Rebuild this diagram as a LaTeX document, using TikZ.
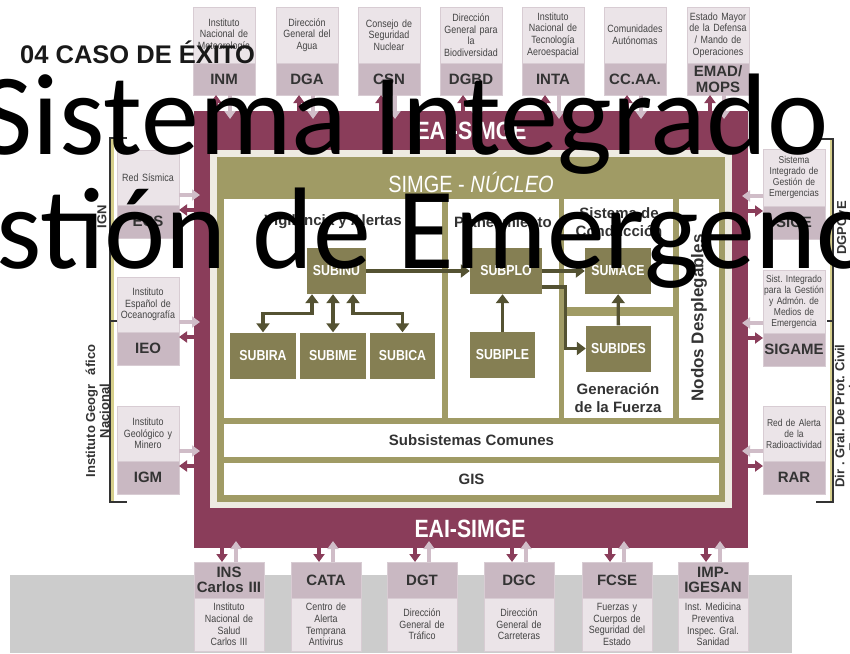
\documentclass[tikz,border=0pt]{standalone}
\usepackage{fontspec}
\setmainfont{Liberation Sans}
\newfontfamily\condfont[FakeStretch=0.85]{Liberation Sans}
\newfontfamily\titlefont{Carlito}
\usetikzlibrary{arrows.meta,calc,fit,positioning}
\frenchspacing

\definecolor{eaired}{HTML}{8A3D5A}
\definecolor{creamcol}{HTML}{EEEBE2}
\definecolor{olivecol}{HTML}{A09B65}
\definecolor{subcol}{HTML}{857F53}
\definecolor{arrowolive}{HTML}{545232}
\definecolor{pinklight}{HTML}{EBE4E8}
\definecolor{pinkedge}{HTML}{D8CCD3}
\definecolor{pinklabel}{HTML}{C9B8C2}
\definecolor{pinkarrow}{HTML}{D0BDC8}
\definecolor{txtdark}{HTML}{333333}
\definecolor{txtgray}{HTML}{444444}
\definecolor{bandgray}{HTML}{CCCCCC}
\definecolor{bracketyel}{HTML}{D6CF8C}

\tikzset{>=Triangle,
  area/.style={rectangle,inner sep=0pt,outer sep=0pt},
  panel/.style={area,fill=white},
  infobox/.style={rectangle,fill=pinklight,draw=pinkedge,line width=0.8pt,
    minimum width=62pt,text width=61pt,inner sep=0pt,outer sep=0pt,align=center,
    font=\condfont\fontsize{10.5}{11.6}\selectfont,text=txtgray},
  labelbox/.style={rectangle,fill=pinklabel,draw=pinkedge,line width=0.8pt,
    minimum width=62pt,text width=60pt,inner sep=0pt,outer sep=0pt,align=center,
    font=\bfseries\fontsize{15}{15.5}\selectfont,text=txtdark},
  subbox/.style={rectangle,fill=subcol,minimum width=66pt,minimum height=46pt,
    inner sep=0pt,font=\condfont\bfseries\fontsize{14.5}{14.5}\selectfont,text=white},
  heading/.style={inner sep=0pt,align=center,text=txtdark,
    font=\bfseries\fontsize{15}{18}\selectfont},
  frametitle/.style={inner sep=0pt,text=white,
    font=\condfont\bfseries\fontsize{25}{25}\selectfont},
  sidetitle/.style={inner sep=0pt,align=center,rotate=90,text=txtdark,
    font=\bfseries\fontsize{13}{14}\selectfont},
  oarr/.style={draw=arrowolive,line width=3.3pt,-{Triangle[width=13pt,length=9pt]}},
  oarr2/.style={draw=arrowolive,line width=3.3pt,
    {Triangle[width=13pt,length=9pt]}-{Triangle[width=13pt,length=9pt]}},
  lightarr/.style={draw=pinkarrow,line width=4.5pt,-{Triangle[width=11pt,length=8pt]}},
  darkarr/.style={draw=eaired,line width=4.5pt,-{Triangle[width=11pt,length=8pt]}},
  bracketline/.style={draw=txtdark,line width=1.2pt}
}

\begin{document}
\begin{tikzpicture}[x=1pt,y=-1pt]
\useasboundingbox (0,0) rectangle (850,653);

% banda gris inferior
\fill[bandgray] (10,575) rectangle (792,653);

% marco EAI-SIMGE y nucleo
\node[area,fill=eaired,fit={(194,111) (748,548)}] (eai) {};
\node[area,fill=creamcol,fit={(210,150) (732,508)}] (core) {};
\node[area,fill=olivecol,fit={(217,157) (725,502)}] (nucleo) {};
\node[frametitle] (eai-top) at (471,131) {EAI-SIMGE};
\node[frametitle] (eai-bot) at (470,529) {EAI-SIMGE};
\node[inner sep=0pt,text=white,font=\condfont\fontsize{23.5}{23.5}\selectfont]
  (simge) at (471,182) {SIMGE - \textit{NÚCLEO}};

% paneles
\node[panel,fit={(224,199) (442,418)}] (vig) {};
\node[panel,fit={(448,199) (559,418)}] (plan) {};
\node[panel,fit={(564,199) (673,307)}] (cond) {};
\node[panel,fit={(564,316) (673,418)}] (gen) {};
\node[panel,fit={(679,199) (719,418)}] (nodos) {};
\node[panel,fit={(224,424) (719,457)}] (comunes) {};
\node[panel,fit={(224,463) (719,495)}] (gis) {};

\node[heading] (vig-t) at (333,222) {Vigilancia y Alertas};
\node[heading] (plan-t) at (503,222) {Planeamiento};
\node[heading] (cond-t) at (619,222.5) {Sistema de\\Conducción};
\node[heading] (gen-t) at (618,398.5) {Generación\\de la Fuerza};
\node[heading,rotate=90,font=\bfseries\fontsize{17}{17}\selectfont] (nodos-t) at (699,318) {Nodos Desplegables};
\node[heading] (comunes-t) at (comunes) {Subsistemas Comunes};
\node[heading] (gis-t) at (gis) {GIS};

% subsistemas
\node[subbox,minimum width=59pt] (subinu) at (336.5,271) {SUBINU};
\node[subbox] (subira) at (263,355.5) {SUBIRA};
\node[subbox] (subime) at (333,355.5) {SUBIME};
\node[subbox,minimum width=65pt] (subica) at (402.5,355.5) {SUBICA};
\node[subbox,minimum width=72pt] (subplo) at (506,271) {SUBPLO};
\node[subbox,minimum width=65pt] (subiple) at (502.5,355) {SUBIPLE};
\node[subbox] (sumace) at (618,271) {SUMACE};
\node[subbox,minimum width=65pt] (subides) at (618.5,348.5) {SUBIDES};

\draw[oarr] (subinu) -- (subplo);
\draw[oarr] (subplo) -- (sumace);
\draw[oarr] ([yshift=-16pt]subplo.east) -- ++(23,0) |- (subides.west);
\draw[oarr] (subides) -- (sumace);
\draw[oarr] (subiple.north) -- (subiple.north |- subplo.south);
\draw[oarr2] (subime.north) -- (subime.north |- subinu.south);
\draw[oarr2] (subira.north) -- ++(0,-19) -| ($(subime.north |- subinu.south)+(-21,0)$);
\draw[oarr2] (subica.north) -- ++(0,-19) -| ($(subime.north |- subinu.south)+(20,0)$);

% organismos superiores
\foreach \x/\nm/\info/\lbl in {
  193/inm/{Instituto\\Nacional de\\Meteorología}/INM,
  276/dga/{Dirección\\General del\\Agua}/DGA,
  358/csn/{Consejo de\\Seguridad\\Nuclear}/CSN,
  440/dgbd/{Dirección\\General para\\la\\Biodiversidad}/DGBD,
  522/inta/{Instituto\\Nacional de\\Tecnología\\Aeroespacial}/INTA,
  604/ccaa/{Comunidades\\Autónomas}/CC.AA.,
  687/emad/{Estado Mayor\\de la Defensa\\/ Mando de\\Operaciones}/{EMAD/\\MOPS}}
{
  \node[infobox,minimum height=56pt,anchor=north west] (\nm-info) at (\x,7) {\info};
  \node[labelbox,minimum height=32pt,anchor=north] (\nm) at (\nm-info.south) {\lbl};
  \coordinate (\nm-a) at ($(\nm.south)+(-8,0)$);
  \coordinate (\nm-b) at ($(\nm.south)+(6,0)$);
  \draw[darkarr] (\nm-a |- eai.north) -- (\nm-a);
  \draw[lightarr] (\nm-b) -- ++(0,24);
}

% organismos inferiores
\foreach \x/\nm/\lbl/\info in {
  194/ins/{INS\\Carlos III}/{Instituto\\Nacional de\\Salud\\Carlos III},
  291/cata/CATA/{Centro de\\Alerta\\Temprana\\Antivirus},
  387/dgt/DGT/{Dirección\\General de\\Tráfico},
  484/dgc/DGC/{Dirección\\General de\\Carreteras},
  582/fcse/FCSE/{Fuerzas y\\Cuerpos de\\Seguridad del\\Estado},
  678/imp/{IMP-\\IGESAN}/{Inst. Medicina\\Preventiva\\Inspec. Gral.\\Sanidad}}
{
  \node[labelbox,minimum width=70pt,text width=68pt,minimum height=36pt,anchor=north west] (\nm) at (\x,562) {\lbl};
  \node[infobox,minimum width=70pt,text width=68pt,minimum height=53pt,anchor=north] (\nm-info) at (\nm.south) {\info};
  \coordinate (\nm-a) at ($(\nm.north)+(-7,0)$);
  \coordinate (\nm-b) at ($(\nm.north)+(7,0)$);
  \draw[darkarr] (\nm-a |- eai.south) -- (\nm-a);
  \draw[lightarr] (\nm-b) -- ++(0,-21);
}

% organismos izquierda (IGN)
\foreach \y/\nm/\info/\lbl in {
  150/ecs/{Red Sísmica}/ECS,
  277/ieo/{Instituto\\Español de\\Oceanografía}/IEO,
  406/igm/{Instituto\\Geológico y\\Minero}/IGM}
{
  \node[infobox,minimum height=55pt,anchor=north west] (\nm-info) at (117,\y) {\info};
  \node[labelbox,minimum height=33pt,anchor=north] (\nm) at (\nm-info.south) {\lbl};
  \coordinate (\nm-l) at ($(\nm.north east)+(0,-10)$);
  \coordinate (\nm-d) at ($(\nm.north east)+(0,5)$);
  \draw[lightarr] (\nm-l) -- ++(21,0);
  \draw[darkarr] (\nm-d -| eai.west) -- (\nm-d);
}

% organismos derecha (DGPCyE)
\foreach \y/\h/\nm/\info/\lbl in {
  149/57/sige/{Sistema\\Integrado de\\Gestión de\\Emergencias}/SIGE,
  270/63/sigame/{Sist. Integrado\\para la Gestión\\y Admón. de\\Medios de\\Emergencia}/SIGAME,
  406/55/rar/{Red de Alerta\\de la\\Radioactividad}/RAR}
{
  \node[infobox,minimum height=\h pt,anchor=north west,text width=62pt,
    font=\condfont\fontsize{10}{11}\selectfont] (\nm-info) at (763,\y) {\info};
  \node[labelbox,minimum height=33pt,anchor=north] (\nm) at (\nm-info.south) {\lbl};
  \coordinate (\nm-l) at ($(\nm.north west)+(0,-10)$);
  \coordinate (\nm-d) at ($(\nm.north west)+(0,5)$);
  \draw[lightarr] (\nm-l) -- ++(-21,0);
  \draw[darkarr] (\nm-d -| eai.east) -- (\nm-d);
}

% llaves laterales
\fill[bracketyel] (110,138) rectangle (113.5,502);
\draw[bracketline] (127,138) -- (110,138) -- (110,502) -- (127,502);
\draw[bracketline] (110,321) -- (117,321);
\fill[bracketyel] (829.5,139) rectangle (833,502);
\draw[bracketline] (816,139) -- (833,139) -- (833,502) -- (816,502);
\draw[bracketline] (827,321) -- (833,321);

\node[sidetitle] (ign) at (102,217) {IGN};
\node[sidetitle] (ign-full) at (97.5,411) {Instituto Geogr\hspace{9pt}áfico\\Nacional};
\node[sidetitle] (dgpcye) at (843,228) {DGPCyE};
\node[sidetitle] (dgpc-full) at (848,416) {Dir . Gral. De Prot. Civil\\y Emergencias};

% textos superpuestos
\node[inner sep=0pt,anchor=base west,text=black!90,font=\bfseries\fontsize{25.5}{25.5}\selectfont]
  (caso) at (20,63) {04 CASO DE ÉXITO};
\node[inner sep=0pt,anchor=base,font=\titlefont\fontsize{116}{116}\selectfont]
  (titulo1) at (404,154) {Sistema Integrado};
\node[inner sep=0pt,anchor=base,font=\titlefont\fontsize{116}{116}\selectfont]
  (titulo2) at (429,268) {Gestión de Emergencias};
\end{tikzpicture}
\end{document}
